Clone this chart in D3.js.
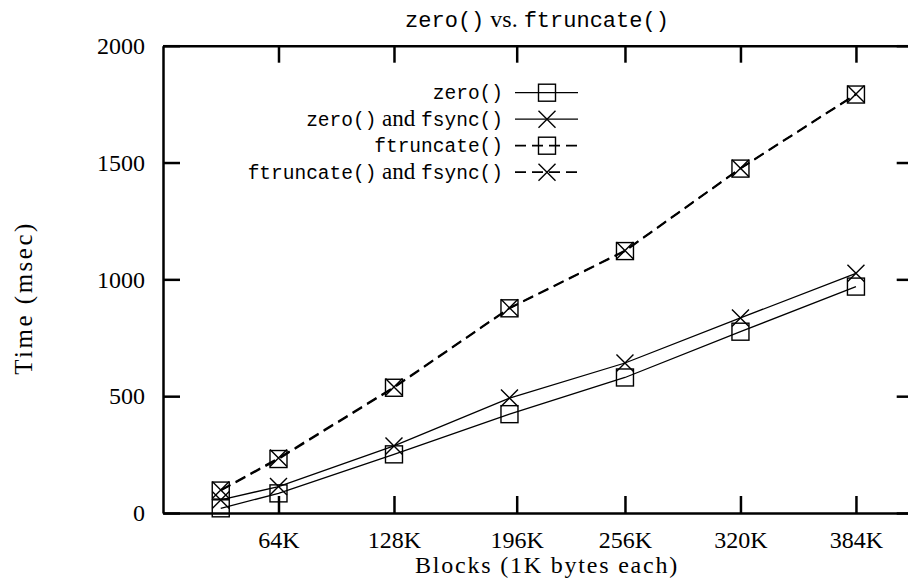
<!DOCTYPE html>
<html>
<head>
<meta charset="utf-8">
<script src="https://cdn.jsdelivr.net/npm/d3@7"></script>
<style>
  body { margin: 0; background: #fff; }
  svg { display: block; }
  .tt { font-family: 'Liberation Mono', 'DejaVu Sans Mono', monospace; }
  .rm { font-family: 'Liberation Serif', 'DejaVu Serif', serif; }
</style>
</head>
<body>
<div id="chart"></div>
<script>
const W = 908;
const H = 579;

// block counts (K) and timings (msec)
const blocks = [32, 64, 128, 192, 256, 320, 384];
const zeroTimes = [20, 84, 251, 423, 580, 776, 969];
const zeroFsyncTimes = [56, 113, 287, 492, 642, 835, 1026];
const ftruncTimes = [96, 231, 536, 876, 1121, 1474, 1791];
const ftruncFsyncTimes = [98, 235, 539, 878, 1123, 1476, 1793];

const xTicks = [64, 128, 196, 256, 320, 384];
const xTickLabels = ['64K', '128K', '196K', '256K', '320K', '384K'];
const yTicks = [0, 500, 1000, 1500, 2000];

const series = [
  { name: [['tt', 'zero()']], values: zeroTimes, dash: null, marker: 'box' },
  { name: [['tt', 'zero()'], ['rm', ' and '], ['tt', 'fsync()']], values: zeroFsyncTimes, dash: null, marker: 'cross' },
  { name: [['tt', 'ftruncate()']], values: ftruncTimes, dash: '11,6', marker: 'box' },
  { name: [['tt', 'ftruncate()'], ['rm', ' and '], ['tt', 'fsync()']], values: ftruncFsyncTimes, dash: '11,6', marker: 'cross' },
];

const plot = { left: 163, right: 913.7, top: 45.7, bottom: 513 };
const TICK = 17;
const M = 8.5; // half marker size

const svg = d3.select('#chart').append('svg').attr('width', W).attr('height', H);

const x = d3.scaleLinear().domain([0, 416]).range([plot.left, plot.right]);
const y = d3.scaleLinear().domain([0, 2000]).range([plot.bottom, plot.top]);

const styleAxis = (g, showLabels) => {
  g.select('.domain').attr('stroke', '#000').attr('stroke-width', 2.5).attr('fill', 'none');
  g.selectAll('.tick line').attr('stroke', '#000').attr('stroke-width', 2.5);
  g.selectAll('.tick text')
    .attr('class', 'rm')
    .attr('fill', '#000')
    .style('font-size', '24px')
    .style('display', showLabels ? null : 'none');
};

// axes with inward ticks, mirrored on top and right
svg.append('g')
  .attr('transform', `translate(0, ${plot.bottom})`)
  .call(d3.axisBottom(x).tickValues(xTicks).tickFormat((d, i) => xTickLabels[i]).tickSizeInner(-TICK).tickSizeOuter(0).tickPadding(18))
  .call((g) => styleAxis(g, true));

svg.append('g')
  .attr('transform', `translate(0, ${plot.top})`)
  .call(d3.axisTop(x).tickValues(xTicks).tickFormat('').tickSizeInner(-TICK).tickSizeOuter(0))
  .call((g) => styleAxis(g, false));

svg.append('g')
  .attr('transform', `translate(${plot.left}, 0)`)
  .call(d3.axisLeft(y).tickValues(yTicks).tickFormat(d3.format('d')).tickSizeInner(-TICK).tickSizeOuter(0).tickPadding(18))
  .call((g) => styleAxis(g, true));

svg.append('g')
  .attr('transform', `translate(${plot.right}, 0)`)
  .call(d3.axisRight(y).tickValues(yTicks).tickFormat('').tickSizeInner(-TICK).tickSizeOuter(0))
  .call((g) => styleAxis(g, false));

// axis titles
svg.append('text')
  .attr('class', 'rm')
  .attr('x', 547)
  .attr('y', 573)
  .attr('text-anchor', 'middle')
  .style('font-size', '24px')
  .style('letter-spacing', '1.8px')
  .text('Blocks (1K bytes each)');

svg.append('text')
  .attr('class', 'rm')
  .attr('transform', 'translate(32, 298) rotate(-90)')
  .attr('text-anchor', 'middle')
  .style('font-size', '25px')
  .style('letter-spacing', '2.5px')
  .text('Time (msec)');

// title
const title = svg.append('text').attr('x', 537).attr('y', 27).attr('text-anchor', 'middle');
title.append('tspan').attr('class', 'tt').style('font-size', '22px').text('zero()');
title.append('tspan').attr('class', 'rm').style('font-size', '24px').text(' vs. ');
title.append('tspan').attr('class', 'tt').style('font-size', '22px').text('ftruncate()');

const drawMarker = (g, kind, cx, cy) => {
  if (kind === 'box') {
    g.append('rect')
      .attr('x', cx - M)
      .attr('y', cy - M)
      .attr('width', 2 * M)
      .attr('height', 2 * M)
      .attr('fill', 'none')
      .attr('stroke', '#000')
      .attr('stroke-width', 1.4);
  } else {
    g.append('path')
      .attr('d', `M${cx - M},${cy - M}L${cx + M},${cy + M}M${cx - M},${cy + M}L${cx + M},${cy - M}`)
      .attr('fill', 'none')
      .attr('stroke', '#000')
      .attr('stroke-width', 1.4);
  }
};

const line = d3.line().x((d) => x(d[0])).y((d) => y(d[1]));

series.forEach((s) => {
  const g = svg.append('g');
  const pts = blocks.map((b, i) => [b, s.values[i]]);
  g.append('path')
    .datum(pts)
    .attr('fill', 'none')
    .attr('stroke', '#000')
    .attr('stroke-width', s.dash ? 1.8 : 1.3)
    .attr('stroke-dasharray', s.dash)
    .attr('d', line);
  pts.forEach((p) => drawMarker(g, s.marker, x(p[0]), y(p[1])));
});

// legend
const legend = svg.append('g');
series.forEach((s, i) => {
  const ly = 92.7 + i * 26.5;
  const t = legend.append('text').attr('x', 503).attr('y', ly + 6.5).attr('text-anchor', 'end');
  s.name.forEach(([cls, str]) => {
    t.append('tspan')
      .attr('class', cls)
      .style('font-size', cls === 'tt' ? '19.5px' : '23px')
      .style('white-space', 'pre')
      .text(str);
  });
  legend.append('line')
    .attr('x1', 515)
    .attr('x2', 578)
    .attr('y1', ly)
    .attr('y2', ly)
    .attr('stroke', '#000')
    .attr('stroke-width', s.dash ? 1.8 : 1.3)
    .attr('stroke-dasharray', s.dash);
  drawMarker(legend, s.marker, 547, ly);
});
</script>
</body>
</html>
